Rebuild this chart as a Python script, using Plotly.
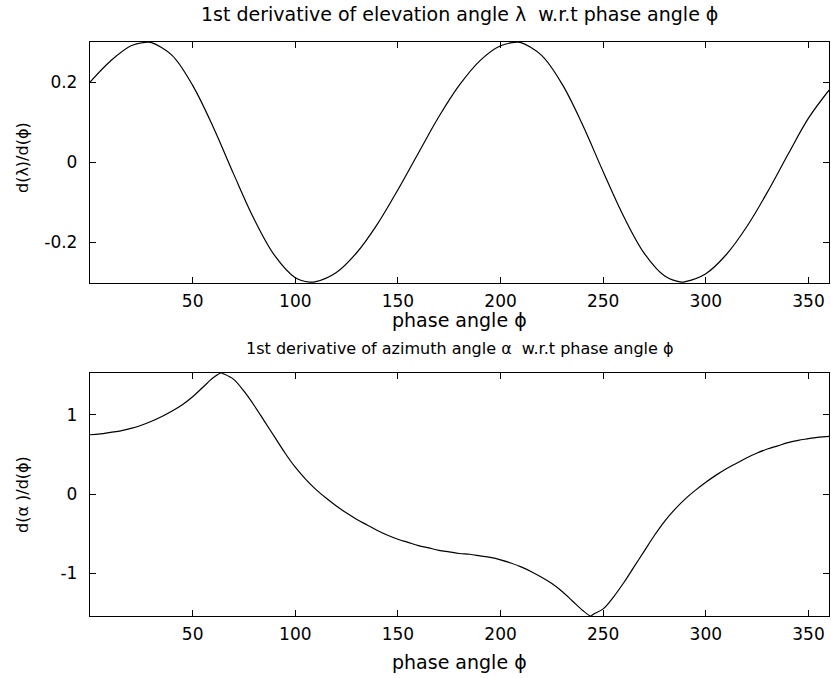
import plotly.graph_objects as go
from plotly.subplots import make_subplots

# ---- data ----
phi_top = [0, 10, 20, 28, 30, 40, 50, 60, 70, 80, 90, 100, 107, 110, 120, 130, 140, 150,
           160, 170, 180, 190, 200, 208, 210, 220, 230, 240, 250, 260, 270, 280, 288,
           290, 300, 310, 320, 330, 340, 350, 360]
dlam = [0.200, 0.253, 0.291, 0.300, 0.299, 0.267, 0.192, 0.088, -0.030, -0.143, -0.234,
        -0.289, -0.300, -0.299, -0.276, -0.226, -0.155, -0.069, 0.023, 0.114, 0.193,
        0.254, 0.291, 0.300, 0.299, 0.267, 0.195, 0.093, -0.024, -0.136, -0.228, -0.285,
        -0.300, -0.299, -0.279, -0.231, -0.161, -0.075, 0.019, 0.110, 0.180]

phi_bot = [0, 5, 10, 15, 20, 25, 30, 35, 40, 45, 50, 55, 60, 64, 65, 70, 75, 80, 85, 90,
           95, 100, 105, 110, 115, 120, 125, 130, 135, 140, 145, 150, 155, 160, 165, 170,
           175, 180, 185, 190, 195, 200, 205, 210, 215, 220, 225, 230, 235, 240, 244, 245,
           250, 255, 260, 265, 270, 275, 280, 285, 290, 295, 300, 305, 310, 315, 320, 325,
           330, 335, 340, 345, 350, 355, 360]
dalp = [0.75, 0.76, 0.78, 0.80, 0.83, 0.87, 0.92, 0.98, 1.05, 1.13, 1.23, 1.35, 1.47, 1.53,
        1.52, 1.45, 1.30, 1.12, 0.92, 0.72, 0.52, 0.34, 0.19, 0.06, -0.05, -0.15, -0.24,
        -0.32, -0.39, -0.46, -0.52, -0.57, -0.61, -0.65, -0.68, -0.71, -0.73, -0.75, -0.76,
        -0.78, -0.80, -0.83, -0.87, -0.92, -0.98, -1.05, -1.13, -1.23, -1.35, -1.47, -1.54,
        -1.52, -1.45, -1.30, -1.12, -0.92, -0.72, -0.52, -0.34, -0.19, -0.06, 0.05, 0.15,
        0.24, 0.32, 0.39, 0.46, 0.52, 0.57, 0.61, 0.65, 0.68, 0.70, 0.72, 0.73]

x_ticks = [50, 100, 150, 200, 250, 300, 350]
top_yticks = [-0.2, 0, 0.2]
top_ylabels = ["-0.2", "0", "0.2"]
bot_yticks = [-1, 0, 1]
bot_ylabels = ["-1", "0", "1"]

title_top = "1st derivative of elevation angle λ  w.r.t phase angle ϕ"
title_bot = "1st derivative of azimuth angle α  w.r.t phase angle ϕ"
xlabel = "phase angle ϕ"
ylabel_top = "d(λ)/d(ϕ)"
ylabel_bot = "d(α )/d(ϕ)"

FONT = "DejaVu Sans, sans-serif"

fig = make_subplots(rows=2, cols=1)
fig.add_trace(go.Scatter(x=phi_top, y=dlam, mode="lines", line=dict(color="black", width=1.2, shape="spline"),
                         showlegend=False), row=1, col=1)
fig.add_trace(go.Scatter(x=phi_bot, y=dalp, mode="lines", line=dict(color="black", width=1.2, shape="spline"),
                         showlegend=False), row=2, col=1)

axis_common = dict(showline=True, mirror="ticks", linecolor="black", linewidth=1.3,
                   ticks="inside", ticklen=6, tickcolor="black", tickwidth=1,
                   showgrid=False, zeroline=False,
                   tickfont=dict(family=FONT, size=17, color="black"))

fig.update_xaxes(range=[0, 360], tickvals=x_ticks, domain=[0, 1], ticklabelstandoff=2, **axis_common)
fig.update_yaxes(ticklabelstandoff=8, **axis_common)
fig.update_layout(
    yaxis=dict(domain=[0.580, 1.0], range=[-0.3025, 0.3005], tickvals=top_yticks, ticktext=top_ylabels),
    yaxis2=dict(domain=[0.0, 0.4233], range=[-1.54, 1.53], tickvals=bot_yticks, ticktext=bot_ylabels),
)

def ann(text, x, y, size, angle=0):
    fig.add_annotation(text=text, x=x, y=y, xref="paper", yref="paper", showarrow=False,
                       xanchor="center", yanchor="middle", textangle=angle,
                       font=dict(family=FONT, size=size, color="black"))

ann(title_top, 0.5, (616 - 14) / 574, 19)
ann(xlabel, 0.5, (616 - 320) / 574, 19)
ann(title_bot, 0.5, (616 - 349) / 574, 16)
ann(xlabel, 0.5, (616 - 662) / 574, 19)
ann(ylabel_top, (22 - 90) / 739, (616 - 158) / 574, 16, -90)
ann(ylabel_bot, (22 - 90) / 739, (616 - 495) / 574, 16, -90)

fig.update_layout(width=831, height=678, margin=dict(l=90, r=2, t=42, b=62),
                  plot_bgcolor="white", paper_bgcolor="white")
fig.write_html("out.html")
